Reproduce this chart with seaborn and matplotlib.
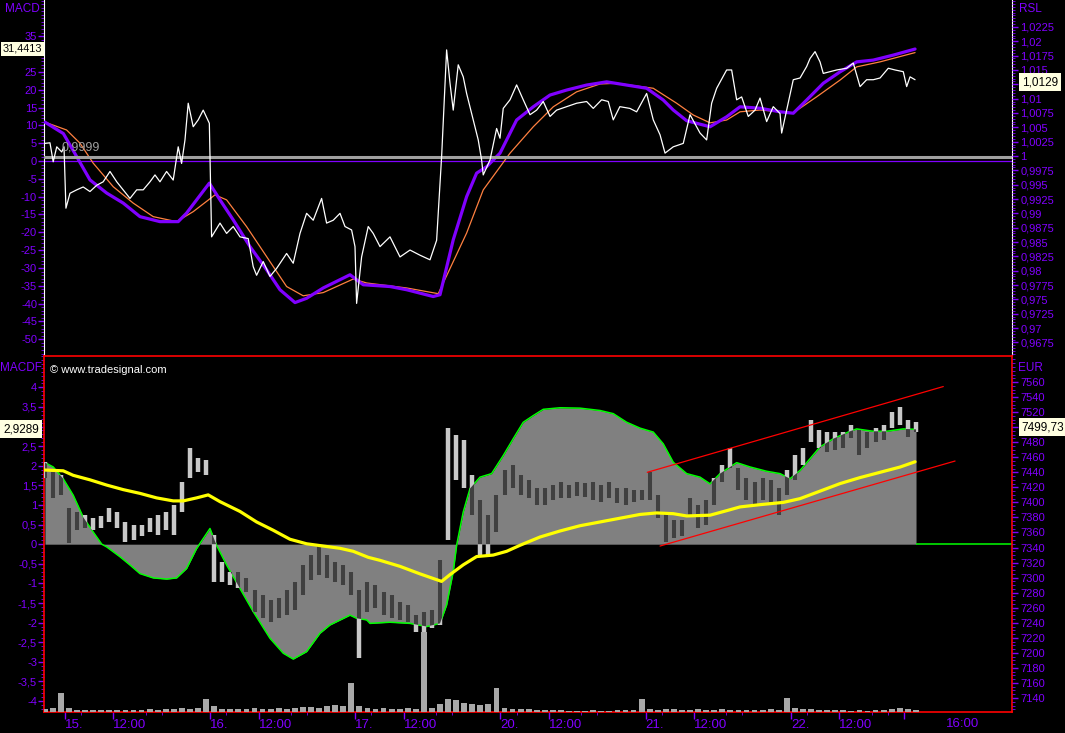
import numpy as np
import matplotlib
matplotlib.use("Agg")
import matplotlib.pyplot as plt
import matplotlib.transforms as mtrans
from matplotlib.ticker import FixedLocator, MultipleLocator, FuncFormatter
import seaborn as sns

sns.set_style("ticks", {"axes.facecolor": "black", "figure.facecolor": "black"})
plt.rcParams['font.family'] = ['Liberation Sans', 'DejaVu Sans']

PURPLE = '#8000ff'
ORANGE = '#ff8040'
YELLOW = '#ffff00'
GREEN = '#00ff00'
RED = '#ff0000'

# time axis: trading hours since 15. 09:00 (9 h per session)
x_left, x_right = -1.30, 58.71
day_ticks = [0, 9, 18, 27, 36, 45]
day_labels = ['15.', '16.', '17.', '20.', '21.', '22.']
noon_ticks = [3, 12, 21, 30, 39, 48]

# --- upper panel: MACD / signal (left), RSL (right)
macd_t = [-1.24, -0.1, 0.73, 1.55, 2.59, 3.61, 4.65, 5.89, 7.02, 7.54,
          8.95, 9.61, 10.43, 11.47, 12.5, 13.33, 14.26, 14.98, 16.01, 17.67,
          18.49, 20.15, 21.18, 22.83, 23.25, 24.07, 24.9, 25.52, 26.14, 26.97,
          28.0, 29.03, 30.07, 31.1, 32.34, 33.58, 34.82, 36.06, 37.09, 37.71,
          38.54, 39.99, 41.02, 41.85, 43.09, 44.33, 45.15, 45.98, 47.01, 48.05,
          49.08, 50.11, 51.35, 52.7]
macd_v = [10.9, 7.7, 1.2, -5.3, -9.0, -11.8, -15.6, -17.0, -17.0, -14.6,
          -6.2, -10.9, -16.5, -24.0, -30.5, -36.1, -39.7, -38.5, -35.6, -31.9,
          -34.7, -35.2, -36.1, -38.0, -37.5, -22.1, -10.0, -3.4, -1.6, 2.2,
          11.5, 15.2, 18.5, 19.9, 21.3, 22.2, 21.3, 20.4, 17.1, 14.3,
          11.3, 9.6, 12.4, 15.2, 14.8, 13.8, 13.4, 17.1, 21.8, 25.0,
          27.8, 28.3, 29.7, 31.4]

sig_t = [-1.24, 0.1, 0.93, 1.75, 2.99, 4.23, 5.47, 6.92, 7.95, 9.3,
         10.02, 11.26, 12.5, 13.74, 14.77, 16.01, 17.87, 18.7, 21.18, 23.14,
         24.9, 25.93, 27.59, 29.03, 30.27, 31.72, 33.17, 34.2, 36.47, 37.92,
         38.95, 39.99, 41.02, 41.85, 43.09, 45.15, 46.6, 48.05, 49.08, 50.53, 52.7]
sig_v = [10.9, 8.7, 5.0, -0.6, -7.2, -11.8, -15.6, -17.0, -14.2, -9.5,
         -10.9, -18.4, -26.8, -35.2, -37.8, -36.9, -33.1, -34.2, -35.6, -37.2,
         -20.2, -8.1, 2.2, 9.6, 15.2, 19.4, 21.6, 21.8, 20.4, 16.2,
         12.9, 10.7, 11.5, 13.8, 14.3, 13.5, 18.0, 22.7, 26.4, 27.8, 30.4]

rsl_t = [-1.24, -0.93, -0.73, -0.51, -0.2, -0.06, 0.06, 0.31, 0.73, 1.13,
         1.55, 1.97, 2.37, 2.79, 3.21, 3.61, 4.03, 4.45, 4.85, 5.27,
         5.58, 5.89, 6.3, 6.71, 7.02, 7.23, 7.44, 7.64, 7.95, 8.26,
         8.57, 8.95, 9.09, 9.61, 10.02, 10.43, 10.85, 11.36, 11.67, 11.88,
         12.29, 12.71, 13.12, 13.74, 14.15, 14.57, 14.98, 15.39, 15.91, 16.22,
         16.63, 17.05, 17.36, 17.77, 17.98, 18.08, 18.39, 18.8, 19.11, 19.53,
         20.15, 20.77, 21.39, 22.01, 22.63, 23.04, 23.35, 23.56, 23.66, 23.87,
         24.07, 24.38, 24.69, 24.9, 25.21, 25.62, 25.83, 25.93, 26.35, 26.76,
         26.97, 27.17, 27.59, 28.0, 28.41, 28.83, 29.24, 29.65, 30.07, 30.48,
         31.1, 31.72, 32.34, 32.75, 33.27, 33.68, 33.99, 34.4, 35.02, 35.44,
         36.06, 36.47, 36.89, 37.2, 37.71, 38.33, 38.75, 39.37, 39.78, 40.09,
         40.4, 41.02, 41.33, 41.64, 41.95, 42.36, 42.78, 43.09, 43.5, 43.91,
         44.33, 44.43, 44.74, 45.15, 45.57, 45.98, 46.19, 46.5, 46.81, 47.01,
         47.43, 47.84, 48.46, 48.87, 49.29, 49.7, 50.11, 50.53, 51.04, 51.46,
         51.97, 52.18, 52.39, 52.7]
rsl_v = [1.0022, 1.0023, 0.9990, 1.0016, 1.0007, 1.0016, 0.9909, 0.9935, 0.9941, 0.9946,
         0.9938, 0.9949, 0.9955, 0.9973, 0.9955, 0.9941, 0.9926, 0.9941, 0.9941, 0.9955,
         0.9967, 0.9955, 0.9973, 0.9958, 1.0016, 0.9987, 1.0028, 1.0092, 1.0051, 1.0063,
         1.0080, 1.0057, 0.9859, 0.9883, 0.9865, 0.9877, 0.9859, 0.9856, 0.9807, 0.9792,
         0.9816, 0.9790, 0.9804, 0.9830, 0.9813, 0.9865, 0.9900, 0.9888, 0.9926, 0.9883,
         0.9888, 0.9900, 0.9877, 0.9871, 0.9842, 0.9743, 0.9824, 0.9877, 0.9865, 0.9842,
         0.9859, 0.9824, 0.9836, 0.9827, 0.9819, 0.9853, 0.9999, 1.0127, 1.0185, 1.0127,
         1.0080, 1.0159, 1.0138, 1.0109, 1.0074, 1.0028, 0.9993, 0.9967, 0.9993, 1.0048,
         1.0031, 1.0083, 1.0098, 1.0124, 1.0098, 1.0072, 1.0080, 1.0095, 1.0069, 1.0080,
         1.0086, 1.0092, 1.0095, 1.0083, 1.0098, 1.0095, 1.0063, 1.0086, 1.0083, 1.0077,
         1.0109, 1.0063, 1.0037, 1.0005, 1.0016, 1.0022, 1.0072, 1.0040, 1.0028, 1.0092,
         1.0118, 1.0150, 1.0150, 1.0098, 1.0103, 1.0069, 1.0080, 1.0101, 1.0060, 1.0086,
         1.0074, 1.0040, 1.0080, 1.0133, 1.0136, 1.0156, 1.0170, 1.0182, 1.0164, 1.0144,
         1.0147, 1.0150, 1.0153, 1.0162, 1.0121, 1.0133, 1.0133, 1.0136, 1.0153, 1.0150,
         1.0147, 1.0121, 1.0138, 1.0133]

# --- lower panel: MACDF area (left), price bars + average + channel (right), volume
mf_t = [-1.24, -0.73, -0.11, 0.51, 1.13, 1.75, 2.28, 2.59, 3.41, 4.03,
        4.65, 5.47, 6.3, 6.92, 7.54, 8.16, 8.99, 9.4, 10.02, 10.85,
        11.67, 12.71, 13.53, 14.15, 14.98, 15.81, 16.43, 17.67, 18.08, 18.7,
        18.91, 20.15, 21.39, 22.42, 23.25, 23.66, 24.07, 24.28, 24.69, 25.11,
        25.73, 26.45, 27.17, 27.79, 28.41, 29.03, 29.65, 30.69, 31.93, 33.17,
        33.99, 34.82, 35.65, 36.47, 37.09, 37.71, 38.54, 39.37, 39.99, 40.61,
        41.64, 42.47, 43.5, 44.33, 44.95, 45.57, 46.19, 46.81, 47.63, 48.67,
        49.08, 50.11, 50.94, 51.97, 52.76]
mf_v = [2.08, 1.97, 1.67, 1.25, 0.69, 0.31, 0.0, -0.07, -0.32, -0.53,
        -0.75, -0.86, -0.89, -0.86, -0.62, -0.11, 0.40, -0.03, -0.53, -1.13,
        -1.72, -2.40, -2.78, -2.93, -2.74, -2.27, -2.06, -1.81, -1.89, -1.93,
        -2.02, -1.99, -2.02, -2.10, -2.02, -1.55, -0.70, -0.03, 0.82, 1.42,
        1.71, 1.80, 2.26, 2.69, 3.11, 3.28, 3.44, 3.48, 3.47, 3.41,
        3.33, 3.11, 2.96, 2.86, 2.56, 2.09, 1.80, 1.71, 1.54, 1.80,
        2.08, 1.97, 1.86, 1.80, 1.67, 1.88, 2.18, 2.48, 2.69, 2.88,
        2.94, 2.88, 2.88, 2.94, 2.93]

ma_t = [-1.24, -0.11, 0.51, 1.55, 2.59, 3.61, 4.65, 5.68, 6.71, 7.33,
        8.16, 8.88, 9.61, 10.85, 11.88, 12.91, 13.95, 14.98, 16.01, 17.05,
        17.87, 18.8, 19.53, 20.77, 22.01, 23.35, 23.87, 24.69, 25.52, 26.55,
        27.38, 28.21, 29.45, 30.69, 31.93, 33.17, 34.41, 35.65, 36.68, 37.71,
        38.54, 39.99, 41.02, 41.85, 43.09, 44.53, 45.57, 46.81, 48.05, 49.29,
        50.53, 51.77, 52.7]
ma_v = [7443, 7442, 7436, 7430, 7423, 7417, 7412, 7406, 7402, 7402,
        7406, 7410, 7401, 7388, 7374, 7363, 7351, 7345, 7342, 7339,
        7335, 7327, 7323, 7315, 7305, 7295, 7304, 7317, 7328, 7330,
        7335, 7343, 7354, 7362, 7369, 7374, 7379, 7384, 7386, 7385,
        7382, 7383, 7389, 7394, 7397, 7400, 7405, 7415, 7425, 7433,
        7440, 7447, 7454]

# half-hour bars from 15. 07:45
bar_start, bar_step = -1.25, 0.5
bar_high = [7454, 7440, 7436, 7393, 7387, 7383, 7379, 7382, 7393, 7387,
            7374, 7370, 7370, 7379, 7383, 7387, 7397, 7427, 7472, 7459,
            7456, 7357, 7321, 7308, 7308, 7300, 7284, 7277, 7270, 7273,
            7284, 7294, 7317, 7330, 7343, 7330, 7321, 7317, 7308, 7284,
            7294, 7290, 7281, 7277, 7268, 7264, 7250, 7254, 7257, 7323,
            7499, 7490, 7483, 7436, 7403, 7383, 7410, 7443, 7450, 7436,
            7430, 7419, 7419, 7423, 7427, 7423, 7427, 7426, 7427, 7423,
            7427, 7419, 7419, 7417, 7417, 7440, 7410, 7387, 7377, 7377,
            7406, 7397, 7403, 7432, 7450, 7472, 7446, 7432, 7427, 7432,
            7430, 7419, 7443, 7463, 7472, 7510, 7496, 7494, 7494, 7494,
            7503, 7496, 7494, 7499, 7503, 7520, 7527, 7510, 7507]
bar_low = [7432, 7406, 7410, 7346, 7363, 7366, 7363, 7366, 7374, 7366,
           7347, 7350, 7355, 7361, 7357, 7363, 7357, 7387, 7432, 7440,
           7436, 7294, 7294, 7290, 7286, 7281, 7254, 7246, 7241, 7246,
           7250, 7257, 7277, 7297, 7304, 7300, 7294, 7290, 7277, 7193,
           7254, 7260, 7250, 7246, 7244, 7241, 7228, 7228, 7233, 7237,
           7350, 7430, 7419, 7383, 7330, 7330, 7361, 7410, 7419, 7410,
           7406, 7397, 7397, 7403, 7406, 7406, 7409, 7407, 7403, 7401,
           7406, 7399, 7397, 7401, 7403, 7403, 7379, 7347, 7353, 7355,
           7383, 7366, 7370, 7397, 7427, 7446, 7417, 7403, 7397, 7403,
           7401, 7383, 7410, 7430, 7450, 7480, 7472, 7467, 7470, 7472,
           7486, 7463, 7472, 7480, 7483, 7499, 7503, 7487, 7494]
bar_vol = [34, 45, 213, 45, 22, 22, 22, 22, 22, 22,
           22, 22, 22, 34, 22, 34, 34, 45, 34, 45,
           146, 67, 34, 34, 34, 34, 45, 34, 34, 45,
           34, 45, 56, 56, 45, 67, 79, 67, 326, 67,
           45, 34, 45, 34, 34, 45, 34, 900, 45, 90,
           146, 135, 101, 90, 79, 90, 270, 45, 34, 34,
           34, 22, 22, 22, 22, 11, 11, 11, 22, 11,
           11, 22, 22, 22, 146, 34, 22, 34, 34, 22,
           22, 34, 22, 22, 34, 22, 22, 22, 22, 22,
           34, 22, 157, 45, 34, 34, 22, 22, 22, 22,
           11, 22, 11, 22, 22, 34, 45, 34, 22]

chan_upper_t, chan_upper_v = [36.1, 54.45], [7440, 7554]
chan_lower_t, chan_lower_v = [36.89, 55.18], [7342, 7455]

# last values shown in the scale boxes
last_macd, last_rsl, last_macdf, last_eur = 31.4413, 1.0129, 2.9289, 7499.73

bar_t = bar_start + bar_step * np.arange(len(bar_high))


def trim(v, nd):
    s = f"{v:.{nd}f}"
    if '.' in s:
        s = s.rstrip('0').rstrip('.')
    return '0' if s in ('-0', '') else s


def comma_fmt(nd, hidden=()):
    # labels covered by the value boxes are left blank
    def f(v, p):
        if any(abs(v - h) < 1e-9 for h in hidden):
            return ''
        return trim(v, nd).replace('.', ',')
    return FuncFormatter(f)


fig = plt.figure(figsize=(10.65, 7.33), dpi=100, facecolor='black')
ax_top = fig.add_axes([44/1065, 1 - 355/733, 968/1065, 355/733])
ax_bot = fig.add_axes([44/1065, 21/733, 968/1065, 356/733])
ax_rsl = ax_top.twinx()
ax_eur = ax_bot.twinx()
ax_vol = ax_bot.twinx()

for ax in (ax_top, ax_bot, ax_rsl, ax_eur, ax_vol):
    ax.set_xlim(x_left, x_right)
    ax.set_facecolor('black')

# upper panel
ax_top.axhline(0, color=PURPLE, lw=0.9, zorder=1)
sns.lineplot(x=sig_t, y=sig_v, ax=ax_top, color=ORANGE, linewidth=0.9, zorder=2)
sns.lineplot(x=macd_t, y=macd_v, ax=ax_top, color=PURPLE, linewidth=2.3, zorder=3)
ax_top.set_ylim(-54.4, 45.15)

ax_rsl.axhline(0.9999, color='#a0a0a0', lw=2.2, zorder=1)
sns.lineplot(x=rsl_t, y=rsl_v, ax=ax_rsl, color='white', linewidth=0.9, zorder=3)
ax_rsl.set_ylim(0.9653, 1.0272)
ax_rsl.text(-0.19, 1.0014, '0,9999', color='#a0a0a0', fontsize=9, va='center', ha='left')

# lower panel
fill = ax_bot.fill_between(mf_t, mf_v, 0, color='#808080', lw=0, zorder=1)
sns.lineplot(x=mf_t, y=mf_v, ax=ax_bot, color=GREEN, linewidth=1.1, zorder=2)
ax_bot.hlines(0, mf_t[-1], x_right, color=GREEN, lw=1.1)
ax_bot.set_ylim(-4.28, 4.80)
fill_path = fill.get_paths()[0]

ax_eur.vlines(bar_t, bar_low, bar_high, colors='#c8c8c8', lw=3.2, zorder=1)
dark = ax_eur.vlines(bar_t, bar_low, bar_high, colors='#404040', lw=3.2, zorder=2)
dark.set_clip_path(fill_path, ax_bot.transData)
sns.lineplot(x=ma_t, y=ma_v, ax=ax_eur, color=YELLOW, linewidth=2.3, zorder=3)
sns.lineplot(x=chan_upper_t, y=chan_upper_v, ax=ax_eur, color=RED, linewidth=0.9, zorder=4)
sns.lineplot(x=chan_lower_t, y=chan_lower_v, ax=ax_eur, color=RED, linewidth=0.9, zorder=4)
ax_eur.set_ylim(7121.4, 7594.6)

ax_vol.bar(bar_t, bar_vol, width=0.36, color='#a8a8a8', lw=0)
ax_vol.set_ylim(0, 4000)
ax_vol.set_yticks([])

# axes styling
for ax in (ax_top, ax_rsl, ax_bot, ax_eur, ax_vol):
    ax.set_xlabel('')
    ax.set_ylabel('')
    for s in ax.spines.values():
        s.set_visible(False)
ax_top.spines['left'].set_visible(True)
ax_top.spines['right'].set_visible(True)
ax_top.spines['left'].set_color('white')
ax_top.spines['right'].set_color('white')
for s in ax_bot.spines.values():
    s.set_visible(True)
    s.set_color(RED)
    s.set_linewidth(1.2)

tick_kw = dict(colors=PURPLE, labelsize=8, direction='out', width=1)
ax_top.yaxis.set_major_locator(FixedLocator(list(range(-50, 40, 5))))
ax_top.yaxis.set_minor_locator(MultipleLocator(1))
ax_top.yaxis.set_major_formatter(comma_fmt(0, hidden=(30,)))
ax_top.tick_params(axis='y', which='major', length=4, pad=1, **tick_kw)
ax_top.tick_params(axis='y', which='minor', length=2, colors=PURPLE)
ax_top.tick_params(axis='x', which='both', bottom=False, labelbottom=False)

rsl_ticks = [round(0.9675 + 0.0025 * i, 4) for i in range(23)]
ax_rsl.yaxis.set_major_locator(FixedLocator(rsl_ticks))
ax_rsl.yaxis.set_minor_locator(MultipleLocator(0.0005))
ax_rsl.yaxis.set_major_formatter(comma_fmt(4, hidden=(1.0125,)))
ax_rsl.tick_params(axis='y', which='major', length=4, pad=2, **tick_kw)
ax_rsl.tick_params(axis='y', which='minor', length=2, colors=PURPLE)

mf_ticks = [round(-4 + 0.5 * i, 1) for i in range(17)]
ax_bot.yaxis.set_major_locator(FixedLocator(mf_ticks))
ax_bot.yaxis.set_minor_locator(MultipleLocator(0.1))
ax_bot.yaxis.set_major_formatter(comma_fmt(1, hidden=(3.0,)))
ax_bot.tick_params(axis='y', which='major', length=4, pad=1, **tick_kw)
ax_bot.tick_params(axis='y', which='minor', length=2, colors=PURPLE)

ax_eur.yaxis.set_major_locator(FixedLocator(list(range(7140, 7580, 20))))
ax_eur.yaxis.set_minor_locator(MultipleLocator(5))
ax_eur.yaxis.set_major_formatter(comma_fmt(0, hidden=(7500,)))
ax_eur.tick_params(axis='y', which='major', length=4, pad=2, **tick_kw)
ax_eur.tick_params(axis='y', which='minor', length=2, colors=PURPLE)

major_x = sorted(day_ticks + noon_ticks) + [52]
labels = {t: l for t, l in zip(day_ticks, day_labels)}
labels.update({t: '12:00' for t in noon_ticks})
labels[52] = ''
ax_bot.set_xticks(major_x)
ax_bot.set_xticklabels([labels[t] for t in major_x])
minor_x = [d + o for d in day_ticks for o in (1, 5, 6) if d + o != 52]
ax_bot.set_xticks(minor_x, minor=True)
ax_bot.tick_params(axis='x', which='major', length=5, pad=0, colors=PURPLE,
                   labelsize=9.5, direction='out', width=1)
ax_bot.tick_params(axis='x', which='minor', length=2, colors=PURPLE, direction='out')
for lbl in ax_bot.get_xticklabels():
    lbl.set_ha('left')
ax_bot.text(54.6, -0.016, '16:00', transform=mtrans.blended_transform_factory(ax_bot.transData, ax_bot.transAxes),
            color=PURPLE, fontsize=9.5, ha='left', va='top', clip_on=False)
for ax in (ax_eur, ax_vol, ax_rsl):
    ax.tick_params(axis='x', which='both', bottom=False, labelbottom=False)

# panel titles
fig.text(40/1065, 1 - 9/733, 'MACD', color=PURPLE, fontsize=8.5, ha='right', va='center')
fig.text(1019/1065, 1 - 9/733, 'RSL', color=PURPLE, fontsize=8.5, ha='left', va='center')
fig.text(42/1065, 1 - 368/733, 'MACDF', color=PURPLE, fontsize=8.5, ha='right', va='center')
fig.text(1018/1065, 1 - 368/733, 'EUR', color=PURPLE, fontsize=8.5, ha='left', va='center')

# current value boxes
box = dict(boxstyle='square,pad=0.25', fc='#ffffe1', ec='none')
box_l = dict(boxstyle='square,pad=0.15', fc='#ffffe1', ec='none')
ax_top.text(-0.002, last_macd, '31,4413', color='black', fontsize=7.8, ha='right', va='center', bbox=box_l,
            transform=mtrans.blended_transform_factory(ax_top.transAxes, ax_top.transData), clip_on=False, zorder=10)
ax_rsl.text(1.01, last_rsl, '1,0129', color='black', fontsize=8.5, ha='left', va='center', bbox=box,
            transform=mtrans.blended_transform_factory(ax_rsl.transAxes, ax_rsl.transData), clip_on=False, zorder=10)
ax_bot.text(-0.005, last_macdf, '2,9289', color='black', fontsize=8.5, ha='right', va='center', bbox=box,
            transform=mtrans.blended_transform_factory(ax_bot.transAxes, ax_bot.transData), clip_on=False, zorder=10)
ax_eur.text(1.01, last_eur, '7499,73', color='black', fontsize=8.5, ha='left', va='center', bbox=box,
            transform=mtrans.blended_transform_factory(ax_eur.transAxes, ax_eur.transData), clip_on=False, zorder=10)

ax_bot.text(0.006, 0.975, '\u00a9 www.tradesignal.com', transform=ax_bot.transAxes, color='white',
            fontsize=8, ha='left', va='top')

fig.savefig('out.png', dpi=100, facecolor='black')
